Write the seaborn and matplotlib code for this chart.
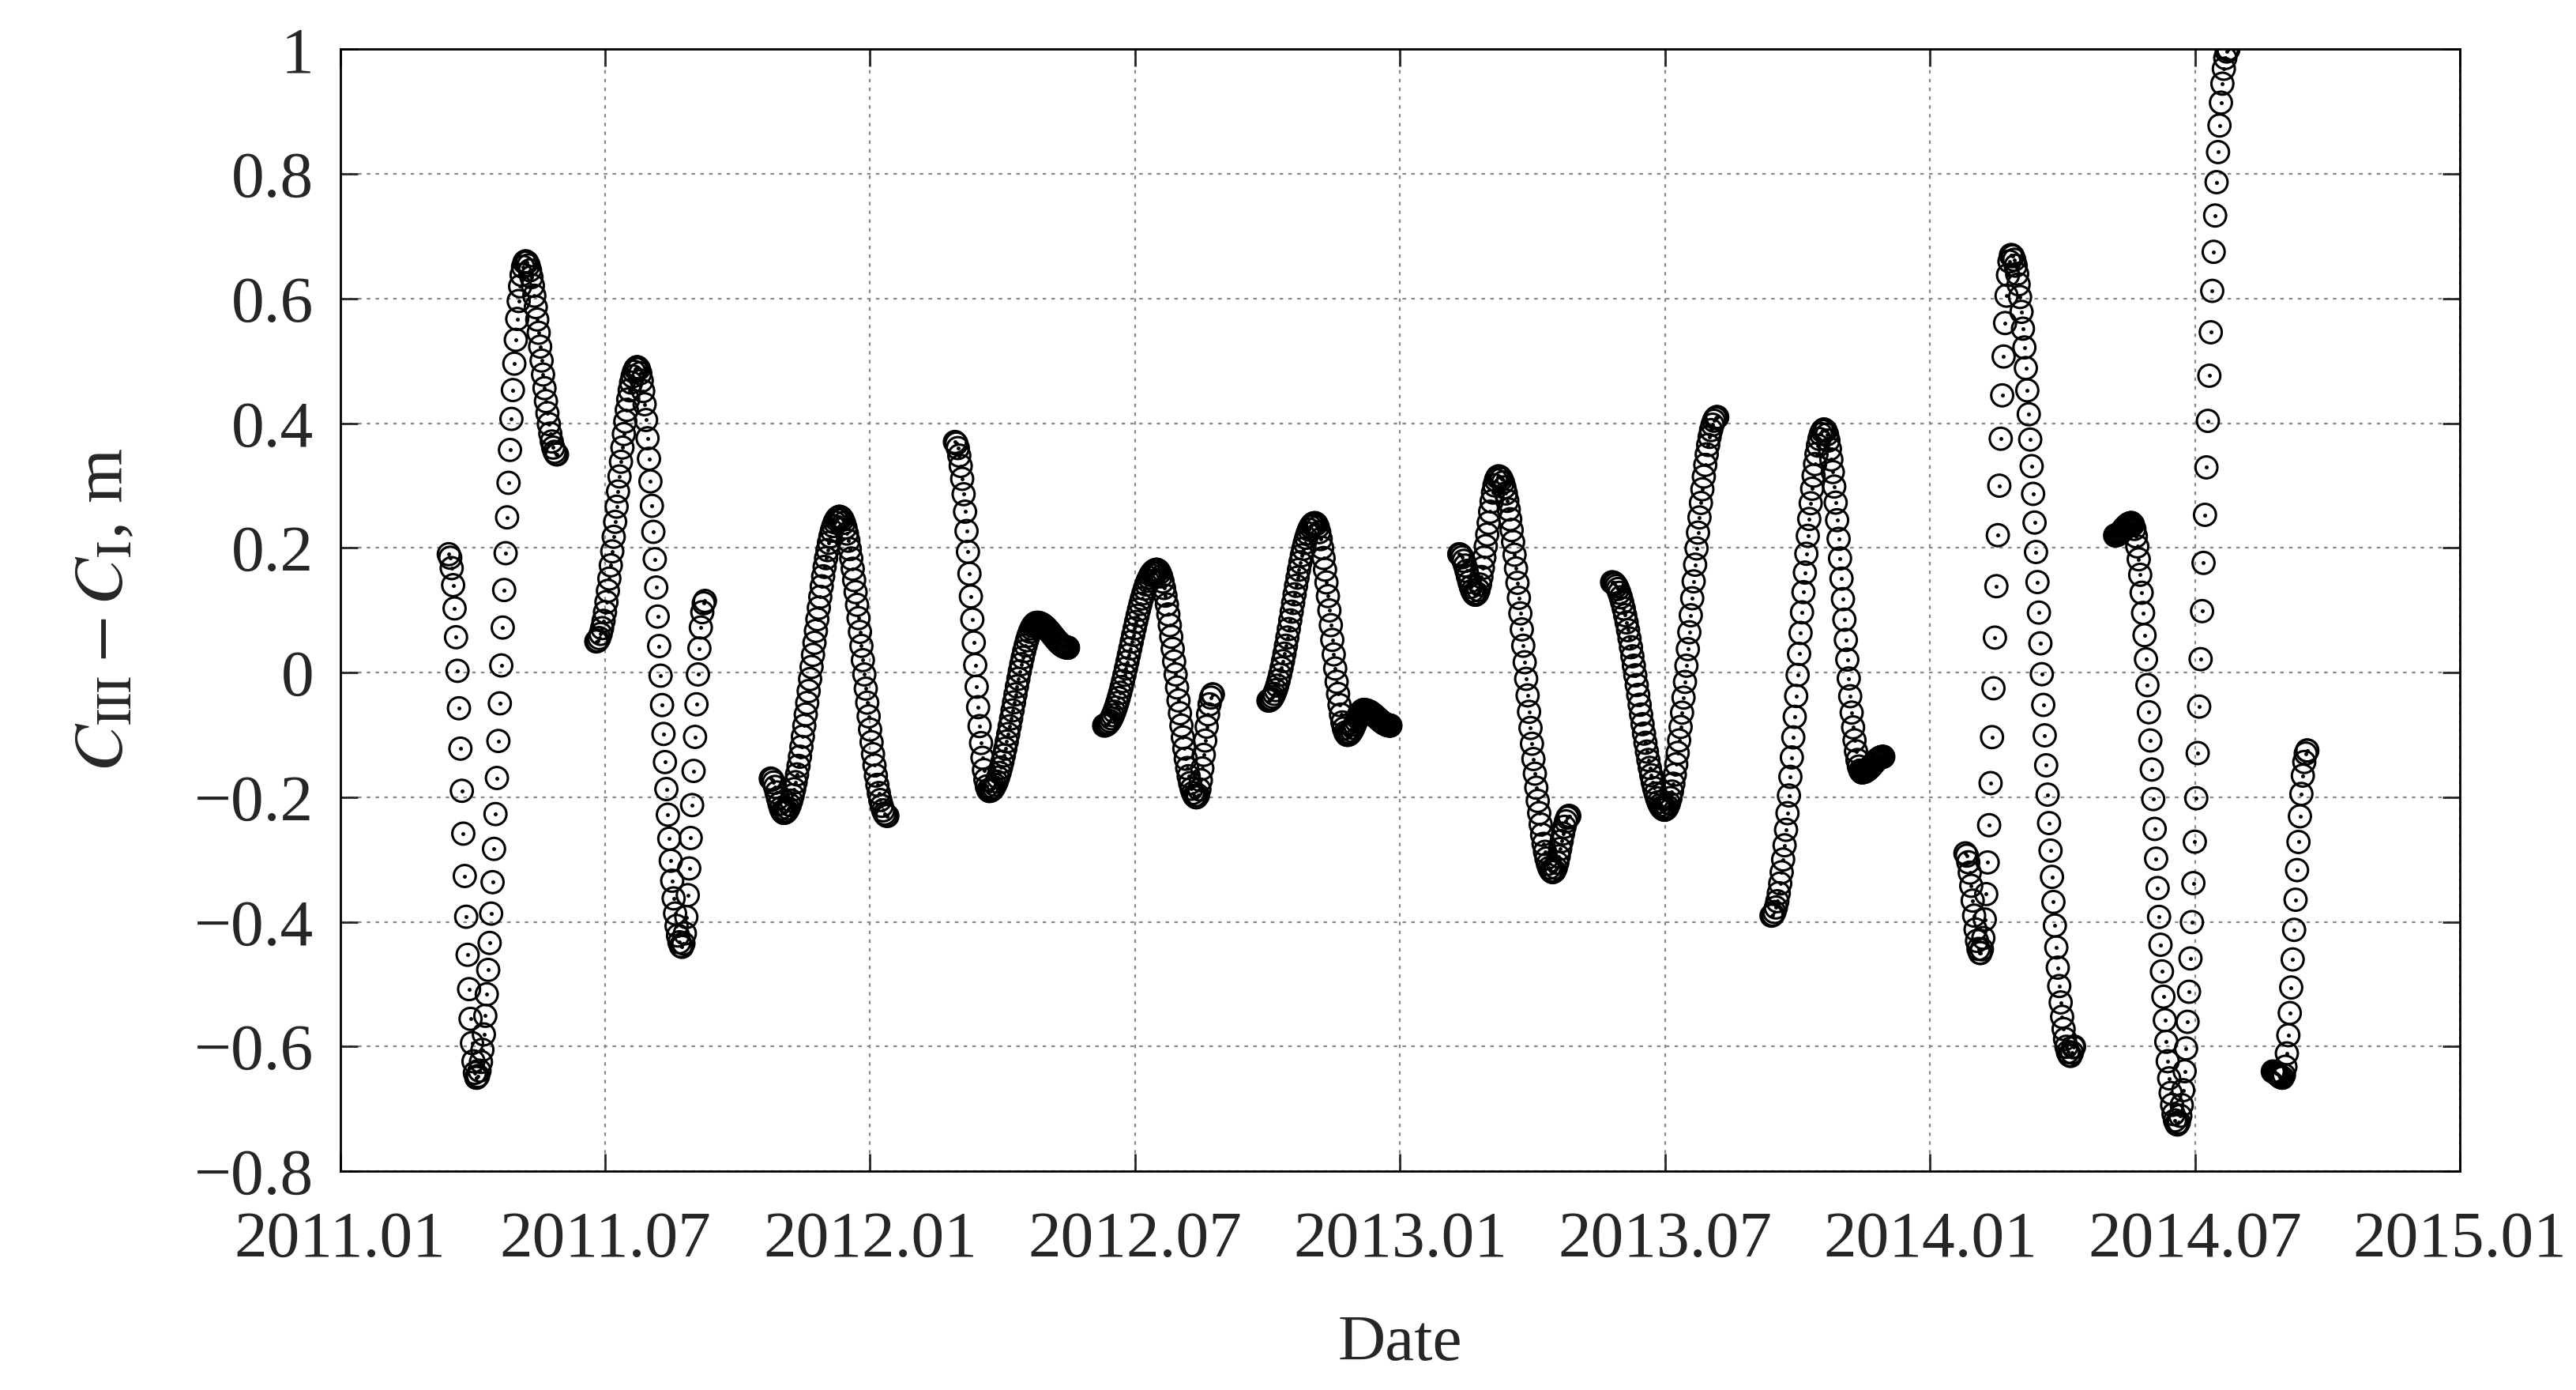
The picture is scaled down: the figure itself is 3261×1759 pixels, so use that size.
import numpy as np
import pandas as pd
import matplotlib
matplotlib.use("Agg")
import matplotlib.pyplot as plt
import seaborn as sns

# Extrema per segment: (months since 2011.01, value in m)
seg_t = [
    [2.46, 3.09, 4.20, 4.91],
    [5.80, 6.73, 7.74, 8.26],
    [9.75, 10.05, 11.31, 12.39],
    [13.92, 14.70, 15.78, 16.48],
    [17.30, 18.49, 19.39, 19.76],
    [21.02, 22.07, 22.81, 23.18, 23.78],
    [25.34, 25.71, 26.23, 27.46, 27.83],
    [28.80, 29.99, 31.18],
    [32.41, 33.60, 34.46, 34.94],
    [36.80, 37.14, 37.84, 39.18, 39.26],
    [40.19, 40.56, 41.60, 42.75],
    [43.76, 43.98, 44.54],
]
seg_v = [
    [0.19, -0.65, 0.66, 0.35],
    [0.05, 0.49, -0.44, 0.115],
    [-0.17, -0.225, 0.25, -0.23],
    [0.37, -0.19, 0.08, 0.04],
    [-0.085, 0.165, -0.20, -0.035],
    [-0.045, 0.24, -0.10, -0.06, -0.085],
    [0.19, 0.125, 0.315, -0.32, -0.23],
    [0.145, -0.22, 0.41],
    [-0.39, 0.39, -0.16, -0.135],
    [-0.29, -0.45, 0.67, -0.615, -0.60],
    [0.22, 0.24, -0.725, 1.0],
    [-0.64, -0.65, -0.125],
]
tick_pos = [0, 6, 12, 18, 24, 30, 36, 42, 48]
tick_lab = ["2011.01", "2011.07", "2012.01", "2012.07", "2013.01",
            "2013.07", "2014.01", "2014.07", "2015.01"]
ytick_pos = [-0.8, -0.6, -0.4, -0.2, 0, 0.2, 0.4, 0.6, 0.8, 1]
ytick_lab = ["\u22120.8", "\u22120.6", "\u22120.4", "\u22120.2", "0",
             "0.2", "0.4", "0.6", "0.8", "1"]

day = 12.0 / 365.25
rows = []
for ts, vs in zip(seg_t, seg_v):
    for i in range(len(ts) - 1):
        t0, t1, v0, v1 = ts[i], ts[i + 1], vs[i], vs[i + 1]
        tt = np.arange(t0, t1, day)
        f = (1 - np.cos(np.pi * (tt - t0) / (t1 - t0))) / 2
        for a, b in zip(tt, v0 + (v1 - v0) * f):
            rows.append((a, b))
    rows.append((ts[-1], vs[-1]))
df = pd.DataFrame(rows, columns=["t", "v"])

sns.set_style("ticks")
plt.rcParams["font.family"] = ["Liberation Serif", "DejaVu Serif"]
plt.rcParams["mathtext.fontset"] = "stix"

fig = plt.figure(figsize=(16.31, 8.795), dpi=200)
ax = fig.add_axes([0.132, 0.1574, 0.8227, 0.8071])
sns.scatterplot(data=df, x="t", y="v", ax=ax, marker="o", s=100,
                facecolor="none", edgecolor="black", linewidth=1.1, zorder=3)
ax.scatter(df["t"], df["v"], s=0.6, color="black", zorder=4)

ax.set_xlim(0, 48)
ax.set_ylim(-0.8, 1.0)
ax.set_xticks(tick_pos)
ax.set_xticklabels(tick_lab)
ax.set_yticks(ytick_pos)
ax.set_yticklabels(ytick_lab)
ax.tick_params(direction="in", top=True, right=True, labelsize=30, length=8,
               width=1)
ax.tick_params(axis="x", pad=18)
ax.tick_params(axis="y", pad=12)
ax.grid(True, linestyle=(0, (2, 3)), color="#888888", linewidth=0.8)
for sp in ax.spines.values():
    sp.set_linewidth(1.0)
    sp.set_color("black")
ax.set_xlabel("Date", fontsize=30, labelpad=20)
ax.set_ylabel(r"$C_{\mathrm{III}} - C_{\mathrm{I}}$, m", fontsize=32, labelpad=26)
fig.savefig("out.png", dpi=200)
